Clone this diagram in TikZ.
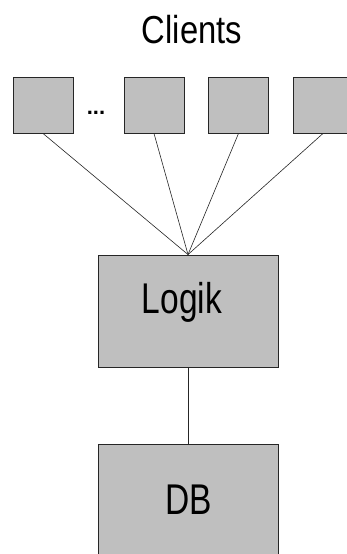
\documentclass[tikz,border=0pt]{standalone}
\usepackage{fontspec}
\setmainfont{Liberation Sans}
\begin{document}
\begin{tikzpicture}[x=1pt,y=-1pt,
  box/.style={draw=black!85,line width=0.9pt,fill=black!25,rectangle,inner sep=0pt},
  client/.style={box,minimum width=60pt,minimum height=56pt},
  big/.style={box,minimum width=180pt,minimum height=112pt},
  txt/.style={anchor=base,inner sep=0pt},
  lbl/.style={txt,font=\fontsize{43}{43}\selectfont,xscale=0.78},
  conn/.style={line width=0.6pt,draw=black!85}]
\useasboundingbox (0,0) rectangle (347,554);
\clip (0,0) rectangle (347,554);
\fill[white] (0,0) rectangle (347,554);
\node[txt,font=\fontsize{39}{39}\selectfont,xscale=0.84] (title) at (192,43) {Clients};
\node[client] (c1) at (43,105) {};
\node[client] (c2) at (154,105) {};
\node[client] (c3) at (238.5,105) {};
\node[client] (c4) at (323,105) {};
\node[txt,font=\fontsize{22}{22}\selectfont\bfseries] (dots) at (96,114) {...};
\node[big] (logik) at (188,311) {};
\node[lbl] (logiktext) at (182,313) {Logik};
\node[big] (db) at (188,500) {};
\node[lbl] (dbtext) at (189,514) {DB};
\foreach \c in {c1,c2,c3,c4}
  \draw[conn] (\c.south) -- (logik.north);
\draw[conn] (logik.south) -- (db.north);
\end{tikzpicture}
\end{document}
